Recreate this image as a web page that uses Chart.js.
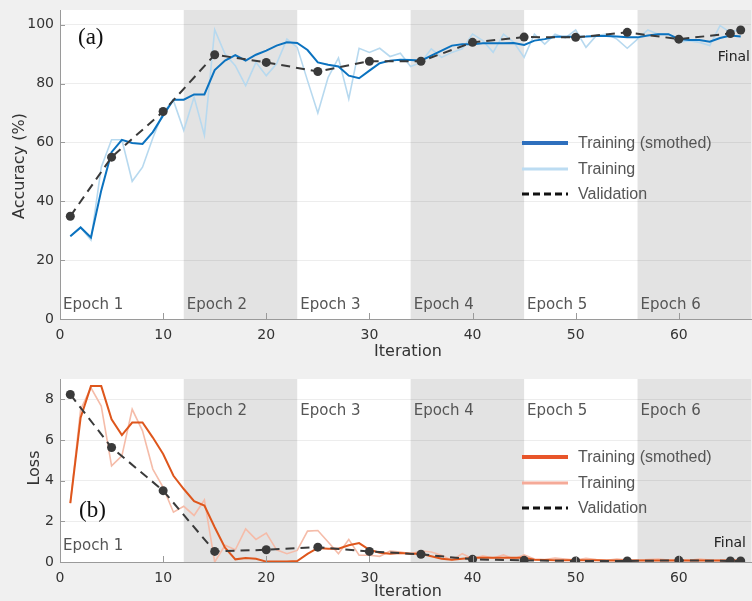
<!DOCTYPE html>
<html><head><meta charset="utf-8">
<script src="https://cdn.jsdelivr.net/npm/chart.js@4.4.1/dist/chart.umd.min.js"></script>
<style>
html,body{margin:0;padding:0;background:#f0f0f0;}
#wrap{position:relative;width:752px;height:601px;overflow:hidden;background:#f0f0f0;}
canvas{position:absolute;left:0;}
</style></head><body>
<div id="wrap">
<canvas id="c1" width="752" height="360" style="top:0px"></canvas>
<canvas id="c2" width="752" height="241" style="top:360px"></canvas>
</div>
<script>
// ---------- DATA ----------
const iterations = [1,2,3,4,5,6,7,8,9,10,11,12,13,14,15,16,17,18,19,20,21,22,23,24,25,26,27,28,29,30,31,32,33,34,35,36,37,38,39,40,41,42,43,44,45,46,47,48,49,50,51,52,53,54,55,56,57,58,59,60,61,62,63,64,65,66];

const accSmoothed = [28.1,31.1,27.7,43.7,56.7,60.9,59.8,59.5,63.5,69.2,74.5,74.5,76.3,76.3,84.6,87.8,89.7,87.8,89.8,91.2,92.9,94.0,93.8,91.4,87.2,86.4,85.8,82.7,81.8,84.4,86.9,87.8,88.1,88.0,87.8,89.5,91.2,92.9,93.4,93.4,93.7,93.7,93.7,93.8,93.1,94.6,95.1,95.9,95.9,95.9,96.0,96.2,96.2,96.0,95.7,95.7,96.3,96.8,96.8,95.1,94.8,94.8,94.2,95.5,96.3,96.0];
const accTraining = [28.1,31.1,26.8,51.6,60.9,60.9,46.8,51.6,61.5,70.3,74.2,64.1,75.4,62.4,98.3,90.0,86.1,79.3,87.2,82.7,86.7,95.1,92.3,81.0,70.0,82.1,88.7,74.8,92.0,90.6,92.0,89.2,90.3,85.8,87.2,91.8,88.9,90.6,91.8,96.8,94.6,90.6,96.8,94.0,88.9,96.8,93.4,96.8,95.5,98.2,92.3,96.3,96.8,95.1,92.0,95.1,98.2,96.8,96.8,94.0,94.6,94.0,92.9,99.7,97.4,98.5];

const valIterations = [1,5,10,15,20,25,30,35,40,45,50,55,60,65,66];
const accValidation = [34.9,55.0,70.5,89.8,87.2,84.1,87.6,87.6,94.0,95.8,95.7,97.4,95.1,97.0,98.2];

const lossSmoothed = [2.89,7.1,8.65,8.65,7.02,6.24,6.86,6.86,6.12,5.31,4.24,3.59,2.99,2.78,1.71,0.70,0.13,0.20,0.16,0.02,0.02,0.02,0.05,0.40,0.69,0.65,0.65,0.82,0.93,0.60,0.46,0.41,0.44,0.41,0.41,0.28,0.16,0.11,0.16,0.21,0.21,0.21,0.21,0.21,0.21,0.11,0.10,0.09,0.09,0.08,0.08,0.08,0.07,0.07,0.07,0.07,0.07,0.07,0.07,0.07,0.07,0.07,0.07,0.07,0.07,0.07];
const lossTraining = [2.89,7.5,8.57,7.67,4.73,5.22,7.51,6.45,4.57,3.67,2.45,2.74,2.29,3.05,0.0,0.82,0.60,1.63,1.11,1.42,0.60,0.41,0.57,1.52,1.55,0.98,0.41,1.11,0.33,0.33,0.28,0.54,0.49,0.41,0.54,0.49,0.33,0.08,0.41,0.16,0.30,0.20,0.35,0.15,0.35,0.15,0.12,0.20,0.15,0.10,0.18,0.12,0.08,0.15,0.10,0.08,0.12,0.15,0.10,0.12,0.08,0.15,0.10,0.08,0.10,0.08];
const lossValidation = [8.24,5.63,3.51,0.52,0.60,0.73,0.52,0.38,0.13,0.08,0.05,0.05,0.08,0.05,0.05];

const epochBounds = [0,12,23,34,45,56,67];
const epochLabels = ['Epoch 1','Epoch 2','Epoch 3','Epoch 4','Epoch 5','Epoch 6'];
const xTicks = [0,10,20,30,40,50,60];
const accTicks = [0,20,40,60,80,100];
const lossTicks = [0,2,4,6,8];
const legendLabels = ['Training (smothed)','Training','Validation'];

// ---------- helpers ----------
const pts = (xs, ys) => xs.map((x,i)=>({x:x, y:ys[i]}));
Chart.defaults.font.family = "'DejaVu Sans', sans-serif";
Chart.defaults.color = '#333';

function makeDecor(cfg){
  return {
    id:'decor',
    beforeDraw(chart){
      const ctx = chart.ctx, a = chart.chartArea, xs = chart.scales.x;
      ctx.save();
      ctx.fillStyle = '#ffffff';
      ctx.fillRect(a.left, a.top, a.right-a.left, a.bottom-a.top);
      ctx.fillStyle = '#e3e3e3';
      for(let i=1;i<epochBounds.length-1;i+=2){
        const x0 = xs.getPixelForValue(epochBounds[i]);
        const x1 = Math.min(a.right, xs.getPixelForValue(epochBounds[i+1]));
        ctx.fillRect(x0, a.top, x1-x0, a.bottom-a.top);
      }
      ctx.restore();
    },
    afterDraw(chart){
      const ctx = chart.ctx, a = chart.chartArea, xs = chart.scales.x, ys = chart.scales.y;
      ctx.save();
      // inner tick marks
      ctx.strokeStyle = '#9a9a9a'; ctx.lineWidth = 1;
      ctx.beginPath();
      xTicks.forEach(v=>{ const p = Math.round(xs.getPixelForValue(v))+0.5; ctx.moveTo(p,a.bottom); ctx.lineTo(p,a.bottom-6); });
      cfg.yTicks.forEach(v=>{ const p = Math.round(ys.getPixelForValue(v))+0.5; ctx.moveTo(a.left,p); ctx.lineTo(a.left+5,p); });
      ctx.stroke();
      // epoch labels
      ctx.font = "15px 'DejaVu Sans'"; ctx.fillStyle = '#555'; ctx.textBaseline = 'middle'; ctx.textAlign = 'left';
      epochLabels.forEach((t,i)=>{
        const x = xs.getPixelForValue(epochBounds[i]) + 3;
        const y = (i===0) ? cfg.epoch1Y : cfg.epochY;
        ctx.fillText(t, x, y);
      });
      // panel label
      ctx.font = "23px 'Liberation Serif'"; ctx.fillStyle = '#111';
      ctx.fillText(cfg.panel, cfg.panelX, cfg.panelY);
      // Final
      ctx.font = "14px 'DejaVu Sans'"; ctx.fillStyle = '#222'; ctx.textAlign = 'right';
      ctx.fillText('Final', cfg.finalX, cfg.finalY);
      // legend
      const lx0 = 522, lx1 = 568, tx = 578;
      cfg.legendY.forEach((y,i)=>{
        ctx.beginPath();
        ctx.setLineDash(i===2 ? [7,4] : []);
        ctx.strokeStyle = cfg.legendColors[i];
        ctx.lineWidth = i===0 ? 4 : 3;
        ctx.moveTo(lx0, y); ctx.lineTo(lx1, y); ctx.stroke();
      });
      ctx.setLineDash([]);
      ctx.font = "16px 'Liberation Sans'"; ctx.fillStyle = '#555'; ctx.textAlign = 'left';
      cfg.legendY.forEach((y,i)=> ctx.fillText(legendLabels[i], tx, y+1));
      // axis titles
      ctx.font = "16px 'DejaVu Sans'"; ctx.fillStyle = '#333'; ctx.textAlign = 'center';
      ctx.fillText('Iteration', cfg.xTitleX, cfg.xTitleY);
      ctx.save();
      ctx.translate(cfg.yTitleX, cfg.yTitleY); ctx.rotate(-Math.PI/2);
      ctx.fillText(cfg.yTitle, 0, 0);
      ctx.restore();
      ctx.restore();
    }
  };
}

function makeChart(canvasId, smooth, raw, val, colSmooth, colRaw, yMax, yTicks, padTop, xHeight, decorCfg){
  return new Chart(document.getElementById(canvasId), {
    type:'line',
    data:{ datasets:[
      { data: pts(valIterations, val), borderColor:'#3a3a3a', backgroundColor:'#3a3a3a', borderWidth:2, borderDash:[9,6],
        pointRadius:4.5, pointBackgroundColor:'#3a3a3a', pointBorderWidth:0, tension:0, order:0 },
      { data: pts(iterations, smooth), borderColor:colSmooth, borderWidth:2, pointRadius:0, tension:0, order:1 },
      { data: pts(iterations, raw), borderColor:colRaw, borderWidth:1.6, pointRadius:0, tension:0, order:2 }
    ]},
    options:{
      responsive:false, animation:false, devicePixelRatio:1,
      layout:{ autoPadding:false, padding:{ top:padTop, right:1, left:0, bottom:0 } },
      plugins:{ legend:{display:false}, tooltip:{enabled:false} },
      scales:{
        x:{ type:'linear', min:0, max:67,
            afterBuildTicks(s){ s.ticks = xTicks.map(v=>({value:v})); },
            afterFit(s){ s.height = xHeight; s.paddingRight = 0; s.paddingLeft = 0; },
            grid:{ display:false, drawTicks:false },
            border:{ display:true, color:'#9a9a9a', width:1 },
            ticks:{ font:{size:14}, color:'#333', padding:8, autoSkip:false, maxRotation:0 } },
        y:{ type:'linear', min:0, max:yMax,
            afterBuildTicks(s){ s.ticks = yTicks.map(v=>({value:v})); },
            afterFit(s){ s.width = 60; s.paddingTop = 0; s.paddingBottom = 0; },
            grid:{ color:'rgba(0,0,0,0.07)', drawTicks:false },
            border:{ display:true, color:'#9a9a9a', width:1 },
            ticks:{ font:{size:14}, color:'#333', padding:6 } }
      }
    },
    plugins:[ makeDecor(decorCfg) ]
  });
}

makeChart('c1', accSmoothed, accTraining, accValidation, '#0b72bf', '#b7d9ef', 105, accTicks, 10, 41, {
  yTicks: accTicks, epochY: 305, epoch1Y: 305, panel:'(a)', panelX:78, panelY:38,
  finalX:750, finalY:57, legendY:[143,169,194], legendColors:['#2e6fbd','#bcdcf2','#111'],
  xTitleX:408, xTitleY:352, yTitle:'Accuracy (%)', yTitleX:20, yTitleY:166
});
makeChart('c2', lossSmoothed, lossTraining, lossValidation, '#de561c', '#f5bca9', 9, lossTicks, 19, 39, {
  yTicks: lossTicks, epochY: 51, epoch1Y: 186, panel:'(b)', panelX:79, panelY:151,
  finalX:746, finalY:183, legendY:[97,123,148], legendColors:['#e8552a','#f5aa98','#111'],
  xTitleX:408, xTitleY:232, yTitle:'Loss', yTitleX:35, yTitleY:108
});
</script>
</body></html>
